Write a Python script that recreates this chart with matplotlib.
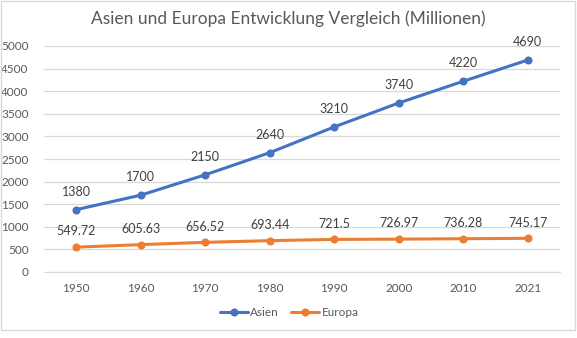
import matplotlib
matplotlib.use("Agg")
import matplotlib.pyplot as plt
from matplotlib.patches import Rectangle

years = ["1950", "1960", "1970", "1980", "1990", "2000", "2010", "2021"]
asien = [1380, 1700, 2150, 2640, 3210, 3740, 4220, 4690]
europa = [549.72, 605.63, 656.52, 693.44, 721.5, 726.97, 736.28, 745.17]
asien_labels = ["1380", "1700", "2150", "2640", "3210", "3740", "4220", "4690"]
europa_labels = ["549.72", "605.63", "656.52", "693.44", "721.5", "726.97", "736.28", "745.17"]
yticks = [0, 500, 1000, 1500, 2000, 2500, 3000, 3500, 4000, 4500, 5000]

plt.rcParams['font.family'] = ['Lato', 'DejaVu Sans']

W, H = 577, 338
fig = plt.figure(figsize=(W/100, H/100), dpi=100)
fig.patches.append(Rectangle((1/W, 8/H), (W-3)/W, (H-9)/H, transform=fig.transFigure,
                             fill=False, edgecolor='#d9d9d9', linewidth=1))

ax = fig.add_axes([44/W, 66/H, (560-44)/W, (292-66)/H])
x = list(range(len(years)))
blue = '#4472C4'
orange = '#ED7D31'
ax.plot(x, asien, color=blue, lw=2.2, marker='o', ms=4.8, label='Asien', solid_capstyle='round')
ax.plot(x, europa, color=orange, lw=2.2, marker='o', ms=4.8, label='Europa', solid_capstyle='round')

for xi, v, t in zip(x, asien, asien_labels):
    ax.annotate(t, (xi, v), xytext=(0, 8.5), textcoords='offset points', ha='center', va='bottom',
                fontsize=9, color='#404040')
for xi, v, t in zip(x, europa, europa_labels):
    ax.annotate(t, (xi, v), xytext=(0, 7), textcoords='offset points', ha='center', va='bottom',
                fontsize=9, color='#404040')

ax.set_xlim(-0.5, len(years) - 0.5)
ax.set_ylim(0, 5000)
ax.set_yticks(yticks)
ax.set_xticks(x)
ax.set_xticklabels(years)
ax.grid(axis='y', color='#d9d9d9', lw=0.9)
ax.set_axisbelow(True)
for s in ['top', 'right', 'left']:
    ax.spines[s].set_visible(False)
ax.spines['bottom'].set_color('#d9d9d9')
ax.tick_params(axis='both', length=0, labelsize=8.5, labelcolor='#595959')
ax.tick_params(axis='x', pad=8)
ax.tick_params(axis='y', pad=11)

fig.text(0.5, (338-19)/H, "Asien und Europa Entwicklung Vergleich (Millionen)", ha='center', va='center',
         fontsize=12.5, color='#595959')

leg = fig.legend(loc='center', bbox_to_anchor=(289/W, (338-313)/H), ncol=2, frameon=False,
                 fontsize=8.5, labelcolor='#595959', handlelength=2.4, columnspacing=1.0, handletextpad=0.2)

fig.savefig('out.png', dpi=100)
